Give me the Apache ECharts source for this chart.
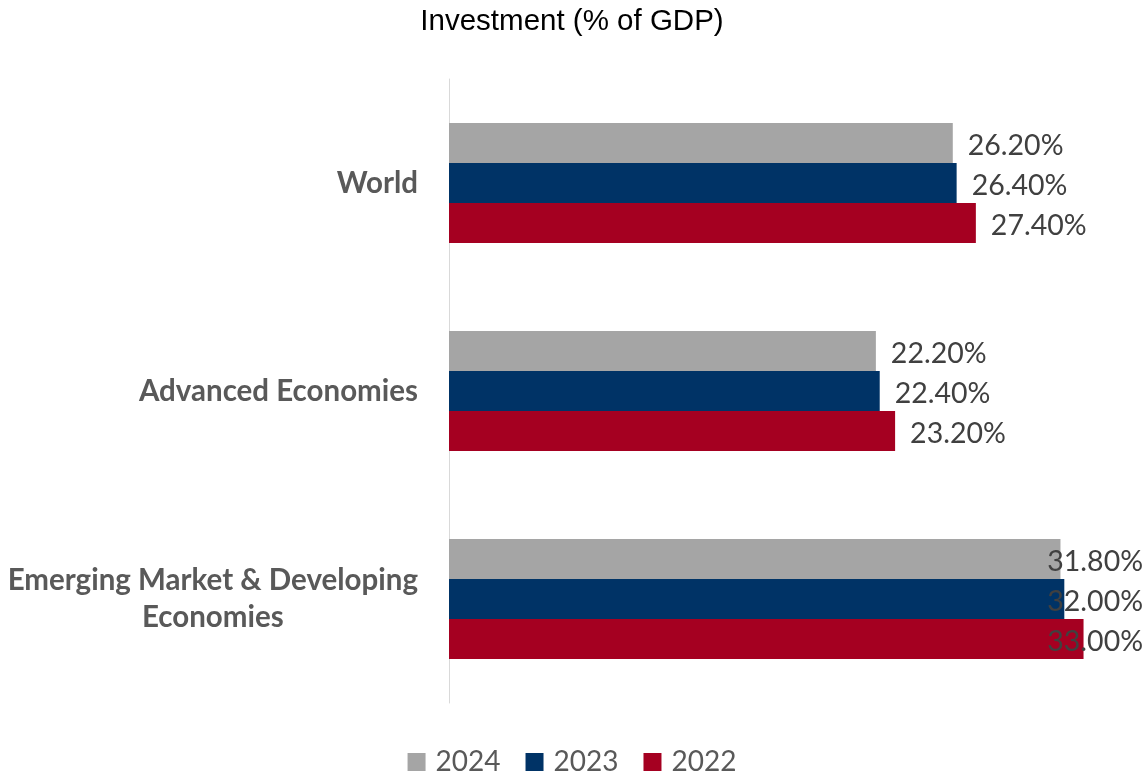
<!DOCTYPE html>
<html>
<head>
<meta charset="utf-8">
<title>Investment (% of GDP)</title>
<script src="https://cdn.jsdelivr.net/npm/echarts@6/dist/echarts.min.js"></script>
<style>
  html, body { margin: 0; padding: 0; background: #ffffff; }
  #chart { width: 1144px; height: 777px; }
</style>
</head>
<body>
<div id="chart"></div>
<script>
// Regions shown on the category axis, top to bottom
const regions = ['World', 'Advanced Economies', 'Emerging Market & Developing Economies'];

// Investment as a share of GDP (%), one array per year
const years = ['2024', '2023', '2022'];
const invest2024 = [26.2, 22.2, 31.8];
const invest2023 = [26.4, 22.4, 32.0];
const invest2022 = [27.4, 23.2, 33.0];

const yearColors = ['#A5A5A5', '#003366', '#A50021'];
const labelFont = 'Lato, "Open Sans", "DejaVu Sans", sans-serif';

const chart = echarts.init(document.getElementById('chart'), null, { renderer: 'canvas' });

function barSeries(name, values, color) {
  return {
    name: name,
    type: 'bar',
    data: values,
    barWidth: 40,
    barGap: '0%',
    itemStyle: { color: color },
    label: {
      show: true,
      position: 'right',
      distance: 15,
      formatter: function (p) { return p.value.toFixed(2) + '%'; },
      fontFamily: labelFont,
      fontSize: 28.5,
      color: '#404040'
    },
    // nudge value labels slightly down and keep them inside the canvas
    labelLayout: function (params) {
      const w = chart.getWidth();
      const r = params.labelRect;
      const out = { y: r.y + r.height / 2 + 3, verticalAlign: 'middle' };
      if (r.x + r.width > w - 1) {
        out.x = w - 1;
        out.align = 'right';
      }
      return out;
    }
  };
}

chart.setOption({
  backgroundColor: '#ffffff',
  animation: false,
  title: {
    text: 'Investment (% of GDP)',
    left: 'center',
    top: 2,
    textStyle: {
      fontFamily: '"Liberation Sans", Arial, sans-serif',
      fontSize: 29.5,
      fontWeight: 'normal',
      color: '#000000'
    }
  },
  legend: {
    data: years,
    top: 743,
    left: 'center',
    icon: 'rect',
    itemWidth: 18,
    itemHeight: 18,
    itemGap: 25,
    textStyle: {
      fontFamily: labelFont,
      fontSize: 28,
      color: '#595959',
      padding: [0, 0, 0, 5]
    }
  },
  grid: {
    left: 449,
    right: 22,
    top: 79,
    bottom: 74,
    containLabel: false
  },
  xAxis: {
    type: 'value',
    min: 0,
    max: 35,
    show: false
  },
  yAxis: {
    type: 'category',
    inverse: true,
    data: regions,
    axisLine: { show: true, lineStyle: { color: '#D9D9D9', width: 1 } },
    axisTick: { show: false },
    splitLine: { show: false },
    axisLabel: {
      margin: 31,
      align: 'right',
      formatter: function (v) {
        if (v === 'Emerging Market & Developing Economies') {
          return '{c|Emerging Market & Developing}\n{c|Economies}';
        }
        return '{c|' + v + '}';
      },
      rich: {
        c: {
          align: 'center',
          fontFamily: labelFont,
          fontSize: 29.5,
          fontWeight: 'bold',
          color: '#595959',
          lineHeight: 37
        }
      }
    }
  },
  series: [
    barSeries(years[0], invest2024, yearColors[0]),
    barSeries(years[1], invest2023, yearColors[1]),
    barSeries(years[2], invest2022, yearColors[2])
  ]
});
</script>
</body>
</html>
